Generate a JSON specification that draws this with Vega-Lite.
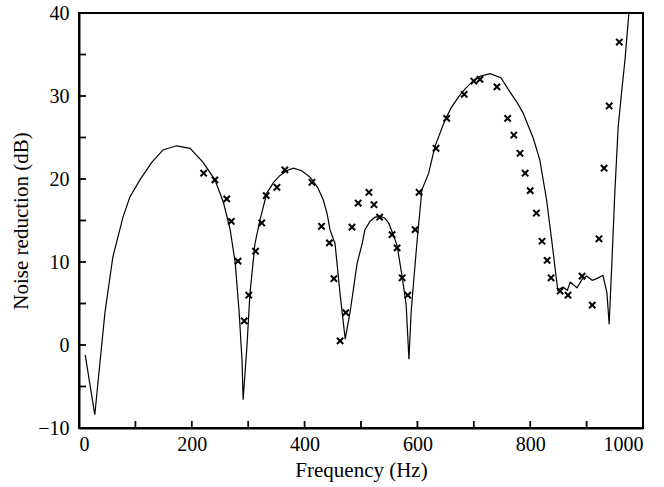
{
  "$schema": "https://vega.github.io/schema/vega-lite/v6.json",
  "width": 564,
  "height": 415,
  "autosize": {"type": "none"},
  "padding": {"left": 79, "top": 13, "right": 21, "bottom": 59},
  "background": "white",
  "config": {
    "view": {"stroke": "black", "strokeWidth": 2}
  },
  "datasets": {
    "curve": [
      {"f": 11, "db": -1.2}, {"f": 28, "db": -8.4}, {"f": 37, "db": -2.2}, {"f": 46, "db": 3.9},
      {"f": 60, "db": 10.6}, {"f": 78, "db": 15.4}, {"f": 90, "db": 17.8}, {"f": 108, "db": 19.9},
      {"f": 129, "db": 22}, {"f": 149, "db": 23.5}, {"f": 173, "db": 24}, {"f": 197, "db": 23.7},
      {"f": 220, "db": 22}, {"f": 241, "db": 19.9}, {"f": 256, "db": 17.2}, {"f": 268, "db": 13.9},
      {"f": 277, "db": 9.9}, {"f": 284, "db": 3.9}, {"f": 289, "db": -1.8}, {"f": 291, "db": -6.6},
      {"f": 298, "db": 0.1}, {"f": 303, "db": 6.1}, {"f": 312, "db": 12.2},
      {"f": 321, "db": 15.1}, {"f": 333, "db": 18.3}, {"f": 345, "db": 19.6}, {"f": 356, "db": 20.4},
      {"f": 368, "db": 21}, {"f": 380, "db": 21.3}, {"f": 395, "db": 21}, {"f": 410, "db": 20.2},
      {"f": 423, "db": 19}, {"f": 433, "db": 17.5}, {"f": 440, "db": 15.8}, {"f": 445, "db": 13.9},
      {"f": 454, "db": 12.2}, {"f": 463, "db": 6.1}, {"f": 472, "db": 0.7}, {"f": 481, "db": 4.1},
      {"f": 493, "db": 9.8}, {"f": 502, "db": 12.2}, {"f": 507, "db": 13.9}, {"f": 516, "db": 14.9},
      {"f": 525, "db": 15.4}, {"f": 534, "db": 15.5}, {"f": 542, "db": 15.3}, {"f": 549, "db": 14.7},
      {"f": 556, "db": 13.5}, {"f": 564, "db": 12}, {"f": 573, "db": 8.2},
      {"f": 580, "db": 4.9}, {"f": 585, "db": -1.7}, {"f": 589, "db": 4.1}, {"f": 594, "db": 8.2},
      {"f": 599, "db": 12.2}, {"f": 608, "db": 18.7}, {"f": 620, "db": 20.7}, {"f": 631, "db": 23.9},
      {"f": 649, "db": 27.1}, {"f": 660, "db": 28.6}, {"f": 673, "db": 29.9}, {"f": 685, "db": 30.9},
      {"f": 697, "db": 31.7}, {"f": 712, "db": 32.4}, {"f": 729, "db": 32.7}, {"f": 748, "db": 32.2},
      {"f": 764, "db": 30.5}, {"f": 776, "db": 29.3}, {"f": 787, "db": 28}, {"f": 805, "db": 25},
      {"f": 817, "db": 22.3}, {"f": 829, "db": 17.5}, {"f": 838, "db": 12.7}, {"f": 846, "db": 8.2},
      {"f": 849, "db": 6.6}, {"f": 858, "db": 7}, {"f": 866, "db": 6.6}, {"f": 871, "db": 7.6},
      {"f": 883, "db": 6.9}, {"f": 892, "db": 7.9}, {"f": 900, "db": 8.3}, {"f": 910, "db": 7.8},
      {"f": 918, "db": 8}, {"f": 929, "db": 8.4}, {"f": 936, "db": 6.3}, {"f": 940, "db": 2.5},
      {"f": 945, "db": 10.2}, {"f": 950, "db": 18.3}, {"f": 956, "db": 26.3}, {"f": 963, "db": 31.1},
      {"f": 968, "db": 34.3}, {"f": 975, "db": 40}
    ],
    "meas": [
      {"f": 221, "db": 20.7}, {"f": 241, "db": 19.9}, {"f": 262, "db": 17.6}, {"f": 270, "db": 14.9},
      {"f": 282, "db": 10.1}, {"f": 293, "db": 2.9}, {"f": 301, "db": 6.0}, {"f": 313, "db": 11.3},
      {"f": 324, "db": 14.7}, {"f": 332, "db": 18.0}, {"f": 351, "db": 19.0}, {"f": 365, "db": 21.1},
      {"f": 413, "db": 19.6}, {"f": 430, "db": 14.3}, {"f": 444, "db": 12.3}, {"f": 452, "db": 8.0},
      {"f": 463, "db": 0.5}, {"f": 473, "db": 3.9}, {"f": 484, "db": 14.2}, {"f": 495, "db": 17.1},
      {"f": 514, "db": 18.4}, {"f": 523, "db": 16.9}, {"f": 533, "db": 15.4}, {"f": 555, "db": 13.3},
      {"f": 564, "db": 11.7}, {"f": 573, "db": 8.1}, {"f": 583, "db": 6.0}, {"f": 596, "db": 13.9},
      {"f": 603, "db": 18.4}, {"f": 633, "db": 23.7}, {"f": 652, "db": 27.3}, {"f": 683, "db": 30.2},
      {"f": 700, "db": 31.8}, {"f": 711, "db": 32.0}, {"f": 741, "db": 31.1}, {"f": 760, "db": 27.3},
      {"f": 771, "db": 25.3}, {"f": 782, "db": 23.1}, {"f": 791, "db": 20.7}, {"f": 800, "db": 18.6},
      {"f": 811, "db": 15.9}, {"f": 821, "db": 12.5}, {"f": 830, "db": 10.2}, {"f": 837, "db": 8.1},
      {"f": 853, "db": 6.5}, {"f": 867, "db": 6.0}, {"f": 892, "db": 8.3}, {"f": 910, "db": 4.8},
      {"f": 922, "db": 12.8}, {"f": 931, "db": 21.3}, {"f": 940, "db": 28.8}, {"f": 958, "db": 36.5}
    ],
    "xticks": [{"t": 100}, {"t": 200}, {"t": 300}, {"t": 400}, {"t": 500}, {"t": 600}, {"t": 700}, {"t": 800}, {"t": 900}],
    "yticks": [{"v": -5}, {"v": 0}, {"v": 5}, {"v": 10}, {"v": 15}, {"v": 20}, {"v": 25}, {"v": 30}, {"v": 35}]
  },
  "layer": [
    {
      "data": {"name": "curve"},
      "mark": {"type": "line", "color": "black", "strokeWidth": 1.2, "clip": true},
      "encoding": {
        "x": {
          "field": "f", "type": "quantitative",
          "scale": {"domain": [0, 1000], "nice": false},
          "axis": {
            "title": "Frequency (Hz)",
            "values": [0, 200, 400, 600, 800, 1000],
            "format": "d",
            "grid": false,
            "zindex": 2,
            "domainColor": "black",
            "domainWidth": 2,
            "ticks": false,
            "labelColor": "black",
            "titleColor": "black",
            "labelFont": "Liberation Serif",
            "titleFont": "Liberation Serif",
            "labelFontSize": 20,
            "titleFontSize": 21,
            "titleFontWeight": "normal",
            "labelPadding": 6,
            "titlePadding": 5
          }
        },
        "y": {
          "field": "db", "type": "quantitative",
          "scale": {"domain": [-10, 40], "nice": false},
          "axis": {
            "title": "Noise reduction (dB)",
            "values": [-10, 0, 10, 20, 30, 40],
            "format": "d",
            "grid": false,
            "zindex": 2,
            "domainColor": "black",
            "domainWidth": 2,
            "ticks": false,
            "labelColor": "black",
            "titleColor": "black",
            "labelFont": "Liberation Serif",
            "titleFont": "Liberation Serif",
            "labelFontSize": 20,
            "titleFontSize": 21,
            "titleFontWeight": "normal",
            "labelPadding": 10,
            "titlePadding": 6
          }
        }
      }
    },
    {
      "data": {"name": "meas"},
      "mark": {
        "type": "point",
        "shape": "M-1,-1L1,1M-1,1L1,-1",
        "filled": false,
        "color": "black",
        "strokeWidth": 2,
        "size": 40,
        "opacity": 1
      },
      "encoding": {
        "x": {"field": "f", "type": "quantitative"},
        "y": {"field": "db", "type": "quantitative"}
      }
    },
    {
      "data": {"name": "xticks"},
      "mark": {"type": "rule", "color": "black", "strokeWidth": 1.8},
      "encoding": {
        "x": {"field": "t", "type": "quantitative"},
        "y": {"datum": -10, "type": "quantitative"},
        "y2": {"datum": -9.16}
      }
    },
    {
      "data": {"name": "yticks"},
      "mark": {"type": "rule", "color": "black", "strokeWidth": 1.8},
      "encoding": {
        "y": {"field": "v", "type": "quantitative"},
        "x": {"datum": 0, "type": "quantitative"},
        "x2": {"datum": 12.4}
      }
    }
  ]
}
